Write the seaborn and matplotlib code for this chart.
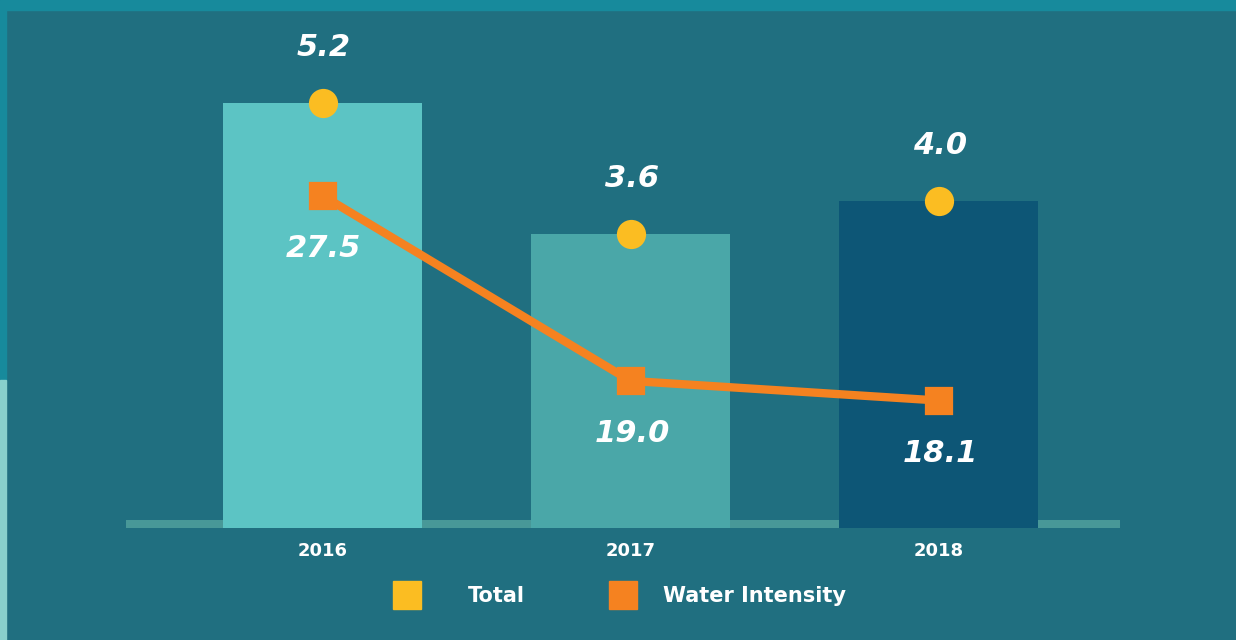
import seaborn as sns
import matplotlib.pyplot as plt
import matplotlib.patches as mpatches
from matplotlib.lines import Line2D

years = ['2016', '2017', '2018']
total = [5.2, 3.6, 4.0]
intensity = [27.5, 19.0, 18.1]
bar_colors = ['#5cc4c4', '#4aa7a8', '#0d5676']

bg = '#206f80'
yellow = '#fbbd22'
orange = '#f58220'

sns.set_style('white')
plt.rcParams['font.family'] = ['DejaVu Sans']

fig = plt.figure(figsize=(12.36, 6.4), dpi=100, facecolor=bg)

# decorative strips at the frame edges
fig.patches.append(mpatches.Rectangle((0, 1 - 10 / 640), 1, 10 / 640, transform=fig.transFigure,
                                      color='#178a9c', zorder=0))
fig.patches.append(mpatches.Rectangle((0, 260 / 640), 6 / 1236, 380 / 640, transform=fig.transFigure,
                                      color='#178a9c', zorder=0))
fig.patches.append(mpatches.Rectangle((0, 0), 6 / 1236, 260 / 640, transform=fig.transFigure,
                                      color='#88d0cc', zorder=0))

ax = fig.add_axes([126 / 1236, 112 / 640, 994 / 1236, 518 / 640])
ax.set_facecolor('none')

sns.barplot(x=years, y=total, hue=years, palette=bar_colors, width=0.646,
            legend=False, saturation=1, linewidth=0, edgecolor='none', ax=ax, zorder=2)
ax.axhspan(0, 8 / 81.7, color='#489898', zorder=1, lw=0)

sns.pointplot(x=years, y=total, color=yellow, marker='o', linestyle='none',
              markersize=19, errorbar=None, ax=ax, zorder=4)

ax2 = ax.twinx()
sns.pointplot(x=years, y=intensity, color=orange, marker='s', markersize=15.5,
              linewidth=6, errorbar=None, ax=ax2, zorder=4)

xlim = (-0.638, 2.589)
ax.set_xlim(xlim)
ax2.set_xlim(xlim)
ax.set_ylim(0, 6.34)
ax2.set_ylim(12.25, 36.02)

for a in (ax, ax2):
    for s in a.spines.values():
        s.set_visible(False)
    a.set_ylabel('')
    a.set_xlabel('')
    a.set_yticks([])
ax2.tick_params(axis='x', bottom=False, labelbottom=False)
ax.tick_params(axis='x', length=0, pad=10, labelsize=13, labelcolor='white')
for t in ax.get_xticklabels():
    t.set_fontweight('bold')

num_style = dict(fontsize=22, fontweight='bold', fontstyle='italic', color='white',
                 ha='center', va='center', textcoords='offset points')
for i, v in enumerate(total):
    ax.annotate(f'{v:.1f}', (i, v), xytext=(1, 40), **num_style)
for i, v in enumerate(intensity):
    ax2.annotate(f'{v:.1f}', (i, v), xytext=(1, -38), **num_style)

# legend: two separate entries so each keeps its own spacing
leg_items = [('Total', yellow, 386 / 1236, 1.95), ('Water Intensity', orange, 602 / 1236, 0.94)]
for label, col, x0, pad in leg_items:
    h = Line2D([], [], marker='s', linestyle='none', markersize=20, color=col)
    leg = fig.legend([h], [label], loc='center left', bbox_to_anchor=(x0, 1 - 596 / 640),
                     frameon=False, borderpad=0, borderaxespad=0, handlelength=2,
                     handletextpad=pad, prop={'size': 15, 'weight': 'bold'})
    for t in leg.get_texts():
        t.set_color('white')

fig.savefig('out.png', dpi=100, facecolor=bg)
